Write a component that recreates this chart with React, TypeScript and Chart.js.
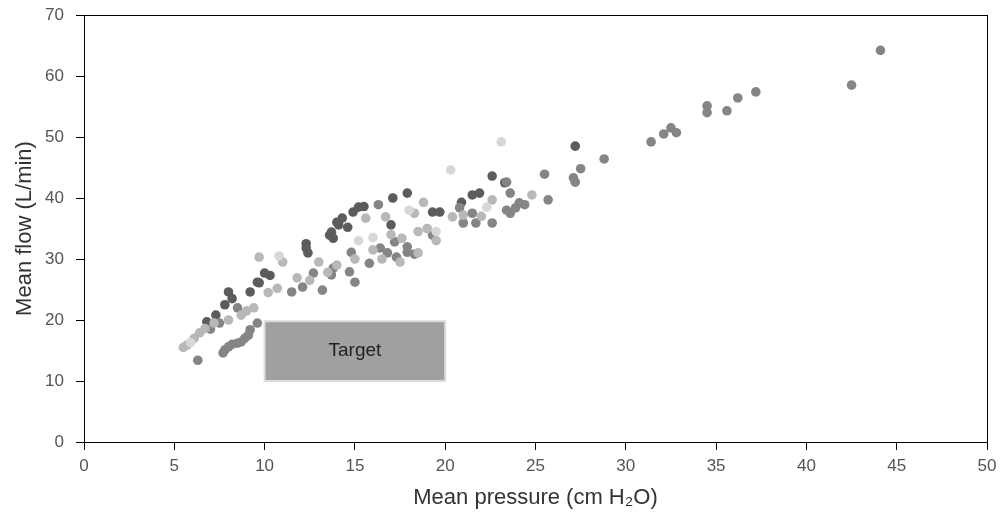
import React, { useEffect, useRef } from "react";
import { Chart, registerables } from "chart.js";

Chart.register(...registerables);

const xTicks = [0, 5, 10, 15, 20, 25, 30, 35, 40, 45, 50];
const yTicks = [0, 10, 20, 30, 40, 50, 60, 70];

const darkPts: [number, number][] = [
  [6.8, 19.7], [7.3, 20.8], [7.8, 22.5], [8.0, 24.6], [9.2, 24.6], [9.7, 26.1], [10.0, 27.7],
  [9.6, 26.2], [10.3, 27.3], [12.3, 31.8], [12.4, 31.0], [12.3, 32.5], [13.6, 33.9], [13.7, 34.4],
  [13.8, 33.4], [14.1, 35.6], [14.3, 36.7], [14.6, 35.2], [14.9, 37.7], [15.2, 38.5], [15.5, 38.6],
  [17.0, 35.6], [17.1, 40.0], [17.9, 40.8], [19.3, 37.7], [19.7, 37.7], [20.9, 39.3], [21.5, 40.5],
  [21.9, 40.8], [22.6, 43.6], [23.3, 42.5], [27.2, 48.5], [8.2, 23.5], [14.0, 36.0],
];

const mediumPts: [number, number][] = [
  [6.3, 13.4], [7.7, 14.6], [7.8, 15.1], [8.0, 15.6], [8.5, 16.2], [8.7, 16.4], [8.9, 17.0],
  [9.1, 17.5], [9.2, 18.4], [9.6, 19.5], [8.5, 22.0], [7.0, 18.5], [7.5, 19.5], [11.5, 24.6],
  [12.1, 25.4], [13.2, 24.9], [12.7, 27.7], [13.7, 27.4], [13.8, 28.5], [14.7, 27.9], [15.0, 26.2],
  [14.8, 31.1], [15.8, 29.3], [16.3, 38.9], [16.4, 31.8], [17.2, 32.8], [17.3, 30.3], [17.9, 31.1],
  [17.9, 32.0], [18.3, 30.8], [19.3, 33.9], [20.8, 38.4], [21.0, 35.9], [21.5, 37.5], [21.7, 35.9],
  [22.6, 35.9], [23.4, 38.0], [23.6, 40.8], [23.6, 37.5], [23.9, 38.4], [24.1, 39.2], [24.4, 38.9],
  [25.7, 39.7], [25.5, 43.9], [27.1, 43.3], [27.2, 42.6], [27.5, 44.8], [28.8, 46.4], [31.4, 49.2],
  [32.1, 50.5], [32.5, 51.5], [32.8, 50.7], [34.5, 54.0], [34.5, 55.1], [35.6, 54.3], [36.2, 56.4],
  [37.2, 57.4], [42.5, 58.5], [44.1, 64.2], [23.4, 42.6], [8.2, 16.0], [16.8, 31.0],
];

const lightPts: [number, number][] = [
  [5.5, 15.5], [5.7, 15.9], [6.1, 17.0], [6.4, 17.9], [6.7, 18.6], [7.2, 19.5], [8.7, 20.8],
  [9.4, 22.0], [9.0, 21.5], [9.7, 30.3], [11.0, 29.5], [10.7, 25.2], [11.8, 26.9], [12.5, 26.5],
  [13.5, 27.8], [14.0, 29.0], [15.0, 30.0], [15.6, 36.7], [16.0, 31.5], [16.7, 36.9], [17.6, 33.4],
  [17.0, 34.0], [18.3, 37.5], [18.8, 39.3], [18.5, 34.5], [19.0, 35.0], [20.4, 36.9], [21.0, 37.2],
  [22.6, 39.7], [24.8, 40.5], [22.0, 37.0], [16.5, 30.0], [17.5, 29.5], [18.5, 31.0], [19.5, 33.0],
  [8.0, 20.0], [10.2, 24.5], [13.0, 29.5],
];

const palePts: [number, number][] = [
  [20.3, 44.6], [23.1, 49.2], [5.9, 16.3], [10.8, 30.5], [18.0, 38.0], [19.5, 34.5], [16.0, 33.5],
  [22.3, 38.5], [15.2, 33.0],
];

const targetBox = { x0: 10, x1: 20, y0: 10, y1: 19.8, label: "Target" };

const toXY = (pts: [number, number][]) => pts.map(([x, y]) => ({ x, y }));

const framePlugin = {
  id: "frameAndTarget",
  afterDatasetsDraw(chart: any) {
    const { ctx, chartArea, scales } = chart;
    const xs = scales.x;
    const ys = scales.y;
    ctx.save();
    const l = xs.getPixelForValue(targetBox.x0);
    const r = xs.getPixelForValue(targetBox.x1);
    const t = ys.getPixelForValue(targetBox.y1);
    const b = ys.getPixelForValue(targetBox.y0);
    ctx.fillStyle = "#a0a0a0";
    ctx.fillRect(l, t, r - l, b - t);
    ctx.strokeStyle = "#dcdcdc";
    ctx.lineWidth = 2;
    ctx.strokeRect(l, t, r - l, b - t);
    ctx.fillStyle = "#222";
    ctx.font = "19px 'Liberation Sans', Arial, sans-serif";
    ctx.textAlign = "center";
    ctx.textBaseline = "middle";
    ctx.fillText(targetBox.label, (l + r) / 2, (t + b) / 2);
    ctx.strokeStyle = "#000";
    ctx.lineWidth = 1;
    ctx.strokeRect(
      Math.round(chartArea.left) + 0.5,
      Math.round(chartArea.top) + 0.5,
      Math.round(chartArea.right - chartArea.left),
      Math.round(chartArea.bottom - chartArea.top)
    );
    ctx.restore();
  },
};

export default function App() {
  const ref = useRef<HTMLCanvasElement | null>(null);
  useEffect(() => {
    if (!ref.current) return;
    const font = "'Liberation Sans', Arial, sans-serif";
    const mk = (label: string, pts: [number, number][], color: string) => ({
      label,
      data: toXY(pts),
      backgroundColor: color,
      borderWidth: 0,
      pointRadius: 4.8,
      pointHoverRadius: 4.8,
    });
    const chart = new Chart(ref.current, {
      type: "scatter",
      data: {
        datasets: [
          mk("pale", palePts, "#d8d8d8"),
          mk("light", lightPts, "#b8b8b8"),
          mk("medium", mediumPts, "#858585"),
          mk("dark", darkPts, "#5c5c5c"),
        ],
      },
      options: {
        animation: false,
        responsive: false,
        maintainAspectRatio: false,
        layout: { padding: { top: 15, right: 13, left: 12, bottom: 0 } },
        plugins: { legend: { display: false }, tooltip: { enabled: false } },
        scales: {
          x: {
            type: "linear",
            min: 0,
            max: 50,
            afterBuildTicks: (s: any) => {
              s.ticks = xTicks.map((v) => ({ value: v }));
            },
            afterFit: (s: any) => {
              s.height = 73;
              s.paddingRight = 0;
              s.paddingLeft = 0;
            },
            grid: { display: true, drawOnChartArea: false, drawTicks: true, tickLength: 8, color: "#000" },
            border: { display: true, color: "#000" },
            ticks: { color: "#555", font: { size: 17, family: font }, padding: 6, maxRotation: 0 },
            title: {
              display: true,
              text: "Mean pressure (cm H₂O)",
              color: "#333",
              font: { size: 22, family: font },
              padding: { top: 4, bottom: 4 },
            },
          },
          y: {
            type: "linear",
            min: 0,
            max: 70,
            afterBuildTicks: (s: any) => {
              s.ticks = yTicks.map((v) => ({ value: v }));
            },
            afterFit: (s: any) => {
              s.width = 72;
              s.paddingTop = 0;
              s.paddingBottom = 0;
            },
            grid: { display: true, drawOnChartArea: false, drawTicks: true, tickLength: 8, color: "#000" },
            border: { display: true, color: "#000" },
            ticks: { color: "#555", font: { size: 17, family: font }, padding: 12 },
            title: {
              display: true,
              text: "Mean flow (L/min)",
              color: "#333",
              font: { size: 22, family: font },
              padding: { top: 0, bottom: 0 },
            },
          },
        },
      },
      plugins: [framePlugin],
    });
    return () => chart.destroy();
  }, []);
  return (
    <div style={{ position: "fixed", left: 0, top: 0, width: 1000, height: 515, background: "#fff" }}>
      <canvas ref={ref} width={1000} height={515} style={{ display: "block" }} />
    </div>
  );
}
